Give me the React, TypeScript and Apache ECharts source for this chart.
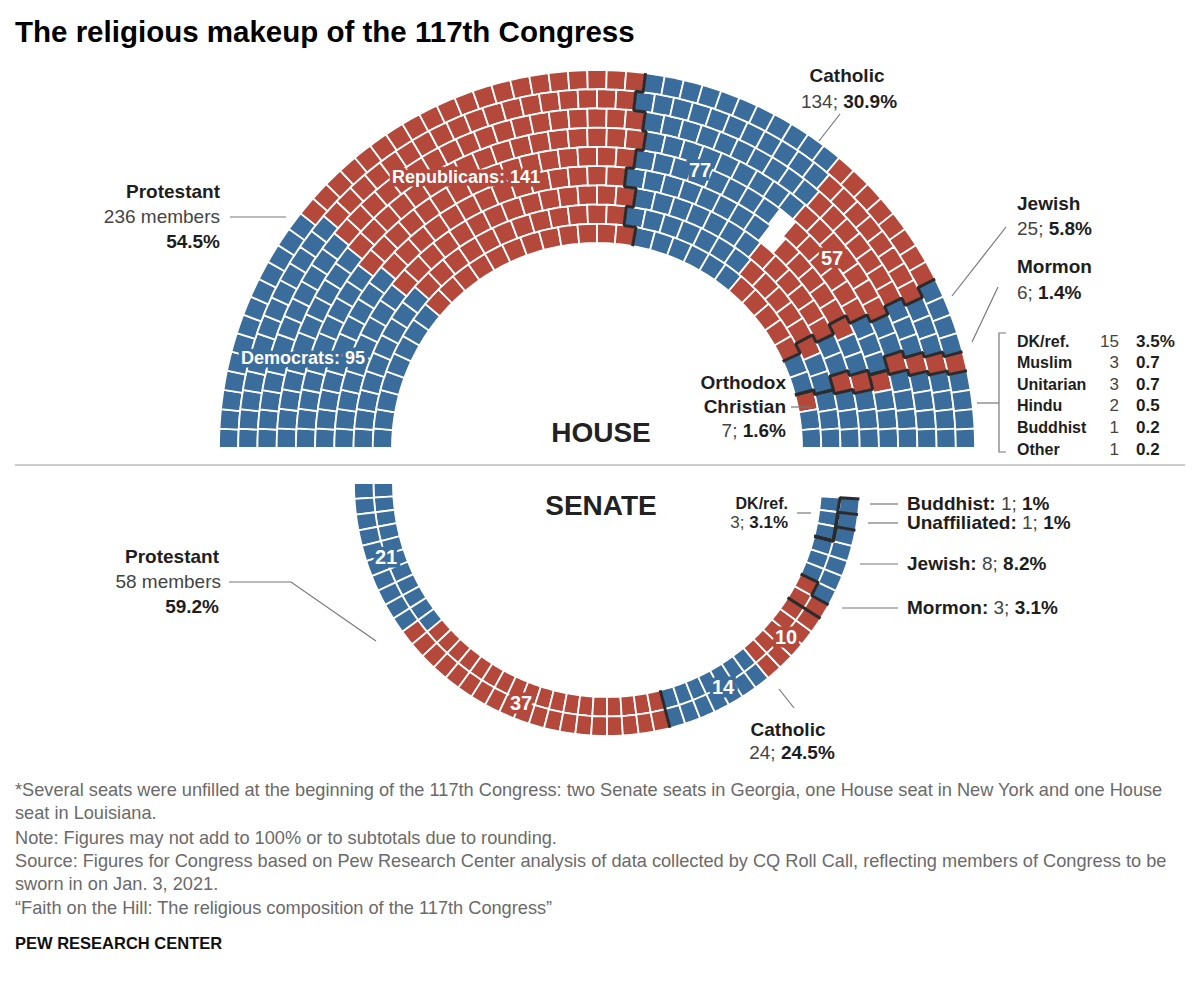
import React, { useEffect, useRef } from "react";
import * as echarts from "echarts";

// ---------------- data ----------------
const houseReligions = ["Protestant", "Catholic", "Jewish", "Mormon", "Orthodox Christian", "DK/ref.", "Muslim", "Unitarian", "Hindu", "Buddhist", "Other"];
const houseTotals = [236, 134, 25, 6, 7, 15, 3, 3, 2, 1, 1];
const houseShares = ["54.5%", "30.9%", "5.8%", "1.4%", "1.6%", "3.5%", "0.7", "0.7", "0.5", "0.2", "0.2"];
const houseDem = [95, 77, 23, 0, 5, 15, 3, 3, 2, 1, 1];
const houseRep = [141, 57, 2, 6, 2, 0, 0, 0, 0, 0, 0];
const houseFirstParty = ["D", "D", "R", "R", "R", "D", "D", "D", "D", "D", "D"];
const houseVacant = 2;
const houseVacantAfter = ["Catholic", "D"];
const houseSeparatorsAfter = ["Protestant", "Catholic", "Jewish", "Mormon"];

const senateReligions = ["Protestant", "Catholic", "Mormon", "Jewish", "Unaffiliated", "Buddhist", "DK/ref."];
const senateTotals = [58, 24, 3, 8, 1, 1, 3];
const senateShares = ["59.2%", "24.5%", "3.1%", "8.2%", "1%", "1%", "3.1%"];
const senateDem = [21, 14, 0, 8, 1, 1, 3];
const senateRep = [37, 10, 3, 0, 0, 0, 0];
const senateFirstParty = ["D", "D", "R", "D", "D", "D", "D"];
const senateVacant = 2;
const senateSeparatorsAfter = ["Protestant", "Catholic", "Mormon", "Jewish", "Unaffiliated", "Buddhist"];

const footNotes = [
  "*Several seats were unfilled at the beginning of the 117th Congress: two Senate seats in Georgia, one House seat in New York and one House",
  "seat in Louisiana.",
  "Note: Figures may not add to 100% or to subtotals due to rounding.",
  "Source: Figures for Congress based on Pew Research Center analysis of data collected by CQ Roll Call, reflecting members of Congress to be",
  "sworn in on Jan. 3, 2021.",
  "\u201cFaith on the Hill: The religious composition of the 117th Congress\u201d",
];

// ---------------- style / layout ----------------
const BLUE = "#3a6c9c";
const RED = "#b3483b";
const FONT = "'Liberation Sans', Arial, sans-serif";
const HOUSE_ROWS = 9;
const HOUSE_INNER_RATIO = 10.66;
const SENATE_ROWS = 2;

type Seg = { religion: string; party: string; count: number };
type Seat = { row: number; a0: number; a1: number; seg?: number };

function buildSegments(rel: string[], dem: number[], rep: number[], first: string[]): Seg[] {
  const out: Seg[] = [];
  rel.forEach((r, i) => {
    const order = first[i] === "D" ? ["D", "R"] : ["R", "D"];
    order.forEach((p) => {
      const n = p === "D" ? dem[i] : rep[i];
      if (n > 0) out.push({ religion: r, party: p, count: n });
    });
  });
  return out;
}

const houseSegs: Seg[] = (() => {
  const s = buildSegments(houseReligions, houseDem, houseRep, houseFirstParty);
  const idx = s.findIndex((g) => g.religion === houseVacantAfter[0] && g.party === houseVacantAfter[1]);
  s.splice(idx + 1, 0, { religion: "Vacant", party: "V", count: houseVacant });
  return s;
})();

const senateSegs: Seg[] = (() => {
  const s = buildSegments(senateReligions, senateDem, senateRep, senateFirstParty);
  s.push({ religion: "Vacant", party: "V", count: senateVacant });
  return s;
})();

function assign(seats: Seat[], segs: Seg[]) {
  let p = 0;
  segs.forEach((g, gi) => {
    for (let k = 0; k < g.count; k++) seats[p++].seg = gi;
  });
}

function houseLayout(): Seat[] {
  const total = houseSegs.reduce((a, g) => a + g.count, 0);
  const mids = Array.from({ length: HOUSE_ROWS }, (_, i) => HOUSE_INNER_RATIO + i + 0.5);
  const msum = mids.reduce((a, b) => a + b, 0);
  const raw = mids.map((m) => (total * m) / msum);
  const n = raw.map((v) => Math.floor(v));
  const rem = total - n.reduce((a, b) => a + b, 0);
  const order = raw.map((v, i) => [v - Math.floor(v), i]).sort((a, b) => b[0] - a[0]);
  for (let k = 0; k < rem; k++) n[order[k][1]]++;
  const seats: Seat[] = [];
  n.forEach((cnt, row) => {
    for (let j = 0; j < cnt; j++) seats.push({ row, a0: (j * 180) / cnt, a1: ((j + 1) * 180) / cnt });
  });
  seats.sort((a, b) => (a.a0 + a.a1) / 2 - (b.a0 + b.a1) / 2 || a.row - b.row);
  assign(seats, houseSegs);
  return seats;
}

function senateLayout(): Seat[] {
  const filled = senateTotals.reduce((a, b) => a + b, 0);
  const cols = (filled + senateVacant) / SENATE_ROWS;
  const used = Math.ceil(filled / SENATE_ROWS);
  const tail = senateTotals[senateTotals.length - 1];
  const slots: { row: number; col: number }[] = [];
  for (let c = 0; c < used; c++)
    for (let r = 0; r < SENATE_ROWS; r++) {
      if (r === 0 && c >= used - tail) continue;
      slots.push({ row: r, col: c });
    }
  for (let c = used - 1; c >= used - tail; c--) slots.push({ row: 0, col: c });
  for (let c = used; c < cols; c++) for (let r = 0; r < SENATE_ROWS; r++) slots.push({ row: r, col: c });
  const seats: Seat[] = slots.map((s) => ({ row: s.row, a0: (s.col * 180) / cols, a1: ((s.col + 1) * 180) / cols }));
  assign(seats, senateSegs);
  return seats;
}

function separator(seats: Seat[], segs: Seg[], religion: string, rows: number, extIn: number, extOut: number) {
  let last = -1;
  segs.forEach((g, i) => {
    if (g.religion === religion) last = i;
  });
  const k = segs.slice(0, last + 1).reduce((a, g) => a + g.count, 0);
  const b = Array(rows).fill(0);
  seats.slice(0, k).forEach((s) => {
    b[s.row] = Math.max(b[s.row], s.a1);
  });
  const pts: number[][] = [[-extIn, b[0]], [1, b[0]]];
  for (let i = 1; i < rows; i++) {
    pts.push([i, b[i]]);
    pts.push([i + 1, b[i]]);
  }
  pts[pts.length - 1][0] = rows + extOut;
  return pts;
}

const seatRender = (params: any, api: any) => {
  const r0 = api.value(0);
  const r1 = api.value(1);
  const a0 = api.value(2);
  const a1 = api.value(3);
  const c = api.value(4);
  const N = 4;
  const pts: number[][] = [];
  for (let s = 0; s <= N; s++) pts.push(api.coord([r1, a0 + ((a1 - a0) * s) / N]).slice(0, 2));
  for (let s = N; s >= 0; s--) pts.push(api.coord([r0, a0 + ((a1 - a0) * s) / N]).slice(0, 2));
  return {
    type: "polygon",
    shape: { points: pts },
    style: { fill: c === 0 ? BLUE : RED, stroke: "#fff", lineWidth: 1.8 },
  };
};

function T(x: number, y: number, text: string, o: any = {}) {
  const size = o.size ?? 19;
  const fill = o.fill ?? "#444";
  const align = o.align ?? "left";
  const style: any = {
    text,
    fill,
    font: `${o.bold ? "bold " : ""}${size}px ${FONT}`,
    align,
    verticalAlign: "middle",
    textAlign: align,
    textVerticalAlign: "middle",
    rich: { b: { fontWeight: "bold", fontSize: size, fontFamily: FONT, fill: o.bfill ?? "#1e1e1e" } },
  };
  if (o.stroke) {
    style.stroke = o.stroke;
    style.lineWidth = o.lw ?? 6;
    style.lineJoin = "round";
  }
  return { type: "text", x, y, z: o.z ?? 100, silent: true, style };
}

// in-ring label: a halo copy in the seat colour beneath white text
function inLabel(g: any[], x: number, y: number, text: string, color: string, size: number) {
  g.push(T(x, y, text, { bold: true, size, align: "center", fill: color, stroke: color, lw: 7, z: 98 }));
  g.push(T(x, y, text, { bold: true, size, align: "center", fill: "#fff", z: 100 }));
}

function L(pts: number[][], color = "#777", w = 1.2) {
  return { type: "polyline", z: 90, silent: true, shape: { points: pts }, style: { stroke: color, lineWidth: w, fill: "none" } };
}

function buildOption() {
  const hSeats = houseLayout();
  const sSeats = senateLayout();
  const seatData = (seats: Seat[], segs: Seg[]) =>
    seats
      .filter((s) => segs[s.seg as number].party !== "V")
      .map((s) => [s.row, s.row + 1, s.a0, s.a1, segs[s.seg as number].party === "D" ? 0 : 1]);

  const series: any[] = [
    {
      type: "custom",
      coordinateSystem: "polar",
      polarIndex: 0,
      renderItem: seatRender,
      data: seatData(hSeats, houseSegs),
      encode: { radius: [0, 1], angle: [2, 3] },
      silent: true,
      clip: false,
    },
    {
      type: "custom",
      coordinateSystem: "polar",
      polarIndex: 1,
      renderItem: seatRender,
      data: seatData(sSeats, senateSegs),
      encode: { radius: [0, 1], angle: [2, 3] },
      silent: true,
      clip: false,
    },
  ];
  houseSeparatorsAfter.forEach((r) => {
    series.push({
      type: "line",
      coordinateSystem: "polar",
      polarIndex: 0,
      data: separator(hSeats, houseSegs, r, HOUSE_ROWS, 0.15, 0.65),
      symbol: "none",
      silent: true,
      clip: false,
      z: 10,
      lineStyle: { color: "#2b2b2b", width: 3 },
    });
  });
  senateSeparatorsAfter.forEach((r) => {
    series.push({
      type: "line",
      coordinateSystem: "polar",
      polarIndex: 1,
      data: separator(sSeats, senateSegs, r, SENATE_ROWS, 0.5, 0.5),
      symbol: "none",
      silent: true,
      clip: false,
      z: 10,
      lineStyle: { color: "#2b2b2b", width: 3 },
    });
  });

  const g: any[] = [];
  g.push(T(15, 31, "The religious makeup of the 117th Congress", { bold: true, size: 29.5, fill: "#000" }));
  g.push(L([[15, 465], [1185, 465]], "#9a9a9a", 1));

  g.push(T(847, 75, houseReligions[1], { bold: true, align: "center", fill: "#1e1e1e" }));
  g.push(T(849, 101, `${houseTotals[1]}; {b|${houseShares[1]}}`, { align: "center" }));
  g.push(L([[840, 114], [819, 141]]));

  g.push(T(220, 191, houseReligions[0], { bold: true, align: "right", fill: "#1e1e1e" }));
  g.push(T(220, 216, `${houseTotals[0]} members`, { align: "right" }));
  g.push(L([[230, 217], [286, 217]]));
  g.push(T(220, 241, houseShares[0], { bold: true, align: "right", fill: "#1e1e1e" }));

  g.push(T(1017, 203, houseReligions[2], { bold: true, fill: "#1e1e1e" }));
  g.push(T(1017, 228, `${houseTotals[2]}; {b|${houseShares[2]}}`));
  g.push(L([[1006, 227], [952, 296]]));

  g.push(T(1017, 266, houseReligions[3], { bold: true, fill: "#1e1e1e" }));
  g.push(T(1017, 292, `${houseTotals[3]}; {b|${houseShares[3]}}`));
  g.push(L([[998, 287], [972, 342]]));

  g.push(T(786, 382, "Orthodox", { bold: true, align: "right", fill: "#1e1e1e" }));
  g.push(T(786, 406, "Christian", { bold: true, align: "right", fill: "#1e1e1e" }));
  g.push(T(786, 430, `${houseTotals[4]}; {b|${houseShares[4]}}`, { align: "right" }));
  g.push(L([[791, 407], [812, 407]]));

  g.push(L([[1006, 333], [999, 333], [999, 452], [1006, 452]]));
  g.push(L([[977, 403], [999, 403]]));
  for (let i = 5; i < houseReligions.length; i++) {
    const y = 341 + (i - 5) * 21.6;
    g.push(T(1017, y, houseReligions[i], { bold: true, size: 16, fill: "#1e1e1e" }));
    g.push(T(1119, y, String(houseTotals[i]), { size: 17, align: "right" }));
    g.push(T(1136, y, houseShares[i], { bold: true, size: 17, fill: "#1e1e1e" }));
  }

  g.push(T(601, 432, "HOUSE", { bold: true, size: 28, align: "center", fill: "#222" }));
  inLabel(g, 303, 358, `Democrats: ${houseDem[0]}`, BLUE, 18);
  inLabel(g, 466, 177, `Republicans: ${houseRep[0]}`, RED, 18);
  inLabel(g, 700, 170, String(houseDem[1]), BLUE, 20);
  inLabel(g, 832, 258, String(houseRep[1]), RED, 20);

  g.push(T(601, 505, "SENATE", { bold: true, size: 28, align: "center", fill: "#222" }));
  g.push(T(219, 556, senateReligions[0], { bold: true, align: "right", fill: "#1e1e1e" }));
  g.push(T(221, 581, `${senateTotals[0]} members`, { align: "right" }));
  g.push(T(219, 606, senateShares[0], { bold: true, align: "right", fill: "#1e1e1e" }));
  g.push(L([[229, 582], [291, 582], [376, 641]]));

  inLabel(g, 386, 557, String(senateDem[0]), BLUE, 20);
  inLabel(g, 521, 703, String(senateRep[0]), RED, 20);
  inLabel(g, 723, 687, String(senateDem[1]), BLUE, 20);
  inLabel(g, 786, 637, String(senateRep[1]), RED, 20);

  g.push(T(788, 503, senateReligions[6], { bold: true, size: 16, align: "right", fill: "#1e1e1e" }));
  g.push(T(788, 522, `${senateTotals[6]}; {b|${senateShares[6]}}`, { size: 17, align: "right" }));
  g.push(L([[797, 513], [811, 513]]));

  const rightLab = (i: number, y: number, x1: number) => {
    g.push(T(907, y, `{b|${senateReligions[i]}:} ${senateTotals[i]}; {b|${senateShares[i]}}`));
    g.push(L([[x1, y + 1], [898, y + 1]]));
  };
  rightLab(5, 503, 870);
  rightLab(4, 522, 868);
  rightLab(3, 563, 860);
  rightLab(2, 607, 842);

  g.push(T(788, 729, senateReligions[1], { bold: true, align: "center", fill: "#1e1e1e" }));
  g.push(T(792, 752, `${senateTotals[1]}; {b|${senateShares[1]}}`, { align: "center" }));
  g.push(L([[779, 689], [794, 708]]));

  const fy = [790, 813, 838, 861, 884, 908];
  footNotes.forEach((t, i) => g.push(T(15, fy[i], t, { size: 18.2, fill: "#6a6a6a" })));
  g.push(T(15, 943, "PEW RESEARCH CENTER", { bold: true, size: 16.5, fill: "#111" }));

  return {
    animation: false,
    backgroundColor: "#fff",
    polar: [
      { center: [597, 448], radius: [205, 378] },
      { center: [607, 483], radius: [214, 253] },
    ],
    angleAxis: [
      { polarIndex: 0, type: "value", min: 0, max: 360, startAngle: 180, clockwise: true, show: false },
      { polarIndex: 1, type: "value", min: 0, max: 360, startAngle: 180, clockwise: false, show: false },
    ],
    radiusAxis: [
      { polarIndex: 0, type: "value", min: 0, max: HOUSE_ROWS, show: false },
      { polarIndex: 1, type: "value", min: 0, max: SENATE_ROWS, show: false },
    ],
    series,
    graphic: { elements: g },
  };
}

export default function App() {
  const ref = useRef<HTMLDivElement>(null);
  useEffect(() => {
    document.body.style.margin = "0";
    const chart = echarts.init(ref.current as HTMLDivElement, null, { renderer: "svg" });
    chart.setOption(buildOption() as any);
    return () => chart.dispose();
  }, []);
  return <div ref={ref} style={{ width: 1200, height: 983 }} />;
}
